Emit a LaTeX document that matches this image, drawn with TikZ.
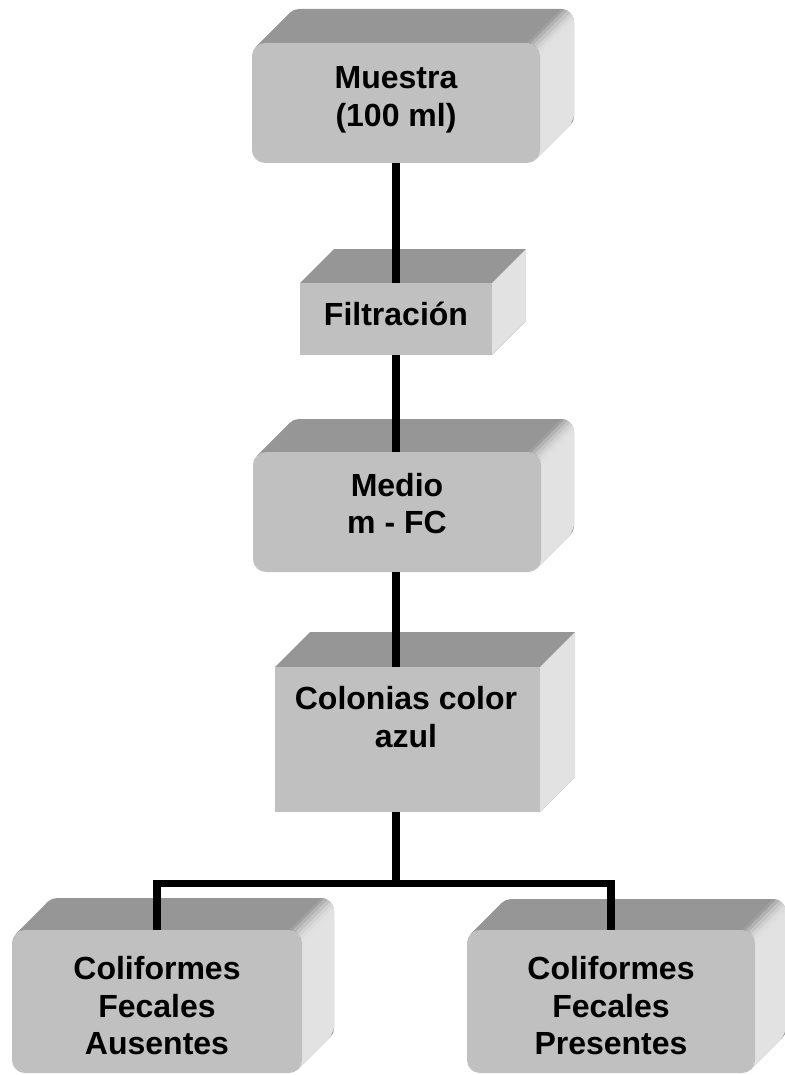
\documentclass[tikz,border=0pt]{standalone}
\usepackage{fontspec}
\setmainfont{Liberation Sans}

\definecolor{frontgray}{RGB}{192,192,192}
\definecolor{topgray}{RGB}{150,150,150}
\definecolor{sidegray}{RGB}{226,226,226}

\tikzset{
  frontface/.style={fill=frontgray, inner sep=0pt, outer sep=0pt},
  topface/.style={fill=topgray},
  sideface/.style={fill=sidegray},
  link/.style={line width=7.5pt, draw=black},
  caption/.style={font=\bfseries\fontsize{32}{37.5}\selectfont, align=center,
                  inner sep=0pt, text=black}
}

% \solidbox{name}{x0}{y0}{x1}{y1}{depth}{corner radius}
% (x0,y0)-(x1,y1): front face; the block recedes up and to the right.
\newcommand\solidbox[7]{%
  \pgfmathsetmacro\sbXa{#2}\pgfmathsetmacro\sbYa{#3}%
  \pgfmathsetmacro\sbXb{#4}\pgfmathsetmacro\sbYb{#5}%
  \pgfmathsetmacro\sbD{#6}\pgfmathsetmacro\sbR{#7}%
  \pgfmathsetmacro\sbT{\sbR*(1-cos(45))}%
  \pgfmathsetmacro\sbW{\sbXb-\sbXa}\pgfmathsetmacro\sbH{\sbYb-\sbYa}%
  % top face: back outline plus the band joining it to the front
  \fill[topface, rounded corners=\sbR pt]
    (\sbXa+\sbD,\sbYa-\sbD) rectangle (\sbXb+\sbD,\sbYb-\sbD);
  \fill[topface]
    (\sbXa+\sbT,\sbYa+\sbT) -- ++(\sbD,-\sbD)
    -- (\sbXb+\sbD-\sbT,\sbYb-\sbD-\sbT) -- (\sbXb-\sbT,\sbYb-\sbT) -- cycle;
  % right side face
  \fill[sideface]
    (\sbXb-\sbT,\sbYa+\sbT) -- ++(\sbD,-\sbD)
    -- (\sbXb+\sbD,\sbYa-\sbD+\sbR) -- (\sbXb+\sbD,\sbYb-\sbD-\sbR)
    -- (\sbXb+\sbD-\sbT,\sbYb-\sbD-\sbT) -- (\sbXb-\sbT,\sbYb-\sbT) -- cycle;
  % rounded edge between top and side, lit progressively
  \ifdim\sbR pt>0pt
    \foreach \k in {0,...,5}{%
      \pgfmathsetmacro\sbAa{90-15*\k}%
      \pgfmathsetmacro\sbAb{75-15*\k}%
      \pgfmathtruncatemacro\sbMix{100*cos(82.5-15*\k)}%
      \fill[sidegray!\sbMix!topgray]
        ({\sbXb-\sbR+\sbR*cos(\sbAa)},{\sbYa+\sbR-\sbR*sin(\sbAa)})
        -- ++(\sbD,-\sbD)
        -- ({\sbXb-\sbR+\sbR*cos(\sbAb)+\sbD},{\sbYa+\sbR-\sbR*sin(\sbAb)-\sbD})
        -- ({\sbXb-\sbR+\sbR*cos(\sbAb)},{\sbYa+\sbR-\sbR*sin(\sbAb)}) -- cycle;
    }%
  \fi
  % front face
  \node[frontface, rounded corners=\sbR pt,
        minimum width=\sbW pt, minimum height=\sbH pt]
    (#1) at ({(\sbXa+\sbXb)/2},{(\sbYa+\sbYb)/2}) {};
}

\begin{document}
\begin{tikzpicture}[x=1pt, y=-1pt]
  \fill[white] (0,0) rectangle (784,1075);
  \useasboundingbox (0,0) rectangle (784,1075);

  % blocks
  \solidbox{sample}{252}{43}{540}{163}{34}{13}
  \solidbox{filter}{300}{283}{492}{355}{34}{0}
  \solidbox{medium}{253}{452}{541}{572}{33}{13}
  \solidbox{colonies}{275}{667}{540}{812}{35}{0}
  \solidbox{absent}{12}{930}{302}{1073}{32}{13}
  \solidbox{present}{467}{930}{755}{1073}{31}{13}

  % captions
  \node[caption] (sample-text)   at (396,100)  {Muestra\\(100 ml)};
  \node[caption] (filter-text)   at (396,314)  {Filtración};
  \node[caption] (medium-text)   at (397,503.5) {Medio\\m - FC};
  \node[caption] (colonies-text) at (406,717)  {Colonias color\\azul};
  \node[caption] (absent-text)   at (157,1006) {Coliformes\\Fecales\\Ausentes};
  \node[caption] (present-text)  at (611,1006) {Coliformes\\Fecales\\Presentes};

  % connectors
  \coordinate (fork) at (396,883.5);
  \draw[link] (sample.south) -- (sample.south |- filter.north);
  \draw[link] (filter.south -| sample.south) -- (sample.south |- medium.north);
  \draw[link] (medium.south -| sample.south) -- (sample.south |- colonies.north);
  \draw[link] (colonies.south -| fork) -- (fork);
  \draw[link] (absent.north) |- (fork) -| (present.north);
\end{tikzpicture}
\end{document}
